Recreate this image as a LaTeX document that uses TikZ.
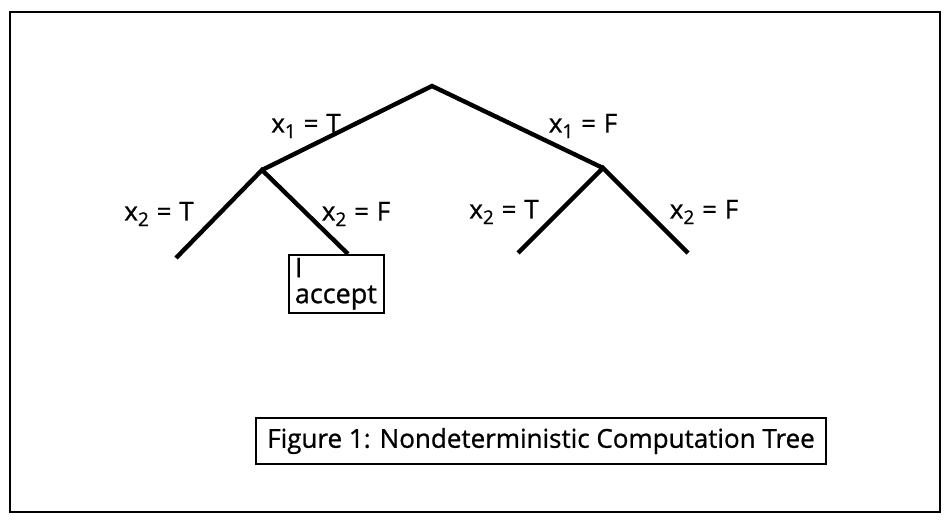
\documentclass[tikz,border=0pt]{standalone}
\usepackage{fontspec}
\setmainfont{Open Sans}[FakeBold=0.9]
\newcommand\subd[1]{\raisebox{-0.4ex}{\fontsize{19}{19}\selectfont #1}}
\newcommand\eqs{\hspace{0.3em}=\hspace{0.3em}}
\begin{document}
\begin{tikzpicture}[x=1pt,y=-1pt,
  branch/.style={line width=4.4pt},
  lab/.style={font=\fontsize{26}{28}\selectfont, inner sep=0pt},
  leafbox/.style={draw, line width=1.8pt, align=left, font=\fontsize{27}{26}\selectfont,
     minimum width=95pt, minimum height=57pt, inner xsep=6pt, inner ysep=3pt, anchor=north west, text width=83pt},
  capbox/.style={draw, line width=2pt, font=\fontsize{26}{28}\selectfont, minimum width=570pt, minimum height=46pt, inner sep=0pt}]
\useasboundingbox (0,0) rectangle (945,521);
\draw[line width=2.8pt] (10,12) rectangle (940,512);
\coordinate (root) at (432,86);
\coordinate (L) at (262,170);
\coordinate (R) at (603,168);
\coordinate (LL) at (176,258);
\coordinate (LR) at (348,254);
\coordinate (RL) at (518,253);
\coordinate (RR) at (688,253);
\draw[branch, line join=miter] (L) -- (root) -- (R);
\draw[branch] (LL) -- (L) -- (LR);
\draw[branch] (RL) -- (R) -- (RR);
\node[leafbox] (acc) at (288,254) {I\\accept};
\node[lab] (l1) at (306,126) {x\subd{1}\eqs T};
\node[lab] (l2) at (583,126) {x\subd{1}\eqs F};
\node[lab] (l3) at (159,214) {x\subd{2}\eqs T};
\node[lab] (l4) at (356,214) {x\subd{2}\eqs F};
\node[lab] (l5) at (504,212) {x\subd{2}\eqs T};
\node[lab] (l6) at (704,212) {x\subd{2}\eqs F};
\node[capbox] (cap) at (541,441) {Figure 1: Nondeterministic Computation Tree};
\end{tikzpicture}
\end{document}
